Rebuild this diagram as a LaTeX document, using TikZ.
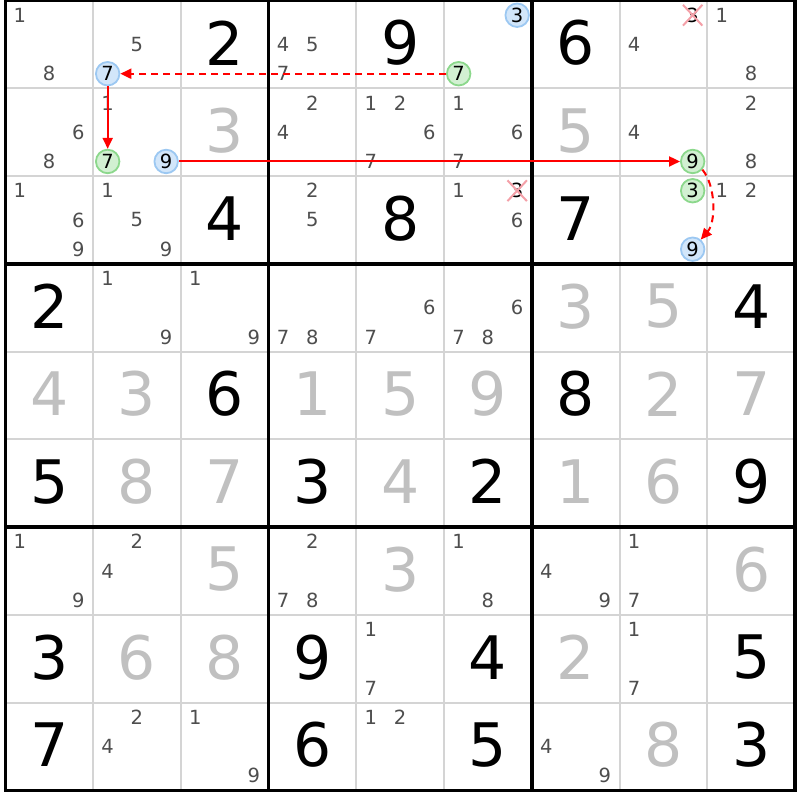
\documentclass[tikz,border=0pt]{standalone}
\usepackage{fontspec}
\setmainfont{DejaVu Sans}
\usetikzlibrary{arrows.meta,shapes.misc}
\definecolor{candgray}{HTML}{4E4E4E}
\definecolor{solgray}{HTML}{C0C0C0}
\definecolor{gridgray}{HTML}{D4D4D4}
\definecolor{bluefill}{HTML}{D2E6FA}
\definecolor{blueline}{HTML}{9CC8F2}
\definecolor{greenfill}{HTML}{D2F0D2}
\definecolor{greenline}{HTML}{8CD88C}
\definecolor{xpink}{HTML}{F4A0A8}
\definecolor{linkred}{HTML}{FF0000}
\tikzset{
  candfont/.style={font=\fontsize{19.5}{19.5}\selectfont},
  bigfont/.style={font=\fontsize{60}{60}\selectfont},
  cand/.style={candfont, text=candgray, inner sep=0pt},
  giv/.style={bigfont, text=black, inner sep=0pt},
  sol/.style={bigfont, text=solgray, inner sep=0pt},
  bcirc/.style={circle, draw=blueline, fill=bluefill, line width=1.8pt, minimum size=23.5pt, inner sep=0pt, text=black, candfont},
  gcirc/.style={circle, draw=greenline, fill=greenfill, line width=1.8pt, minimum size=23.5pt, inner sep=0pt, text=black, candfont},
  xcand/.style={cross out, draw=xpink, line width=2pt, inner xsep=2.5pt, inner ysep=2pt, text=black, candfont},
  thingrid/.style={draw=gridgray, line width=2pt},
  thickgrid/.style={draw=black, line width=3.5pt},
  lnk/.style={draw=linkred, line width=2pt, -{Triangle[length=11pt,width=10pt]}},
  dlnk/.style={lnk, dash pattern=on 7pt off 5pt}
}
\newcommand\sdgiv[3]{\node[giv] (g#1#2) at ({5.3+(#2+0.5)*87.75},{0.6+(#1+0.5)*87.75-1.5}) {#3};}
\newcommand\sdsol[3]{\node[sol] (g#1#2) at ({5.3+(#2+0.5)*87.75},{0.6+(#1+0.5)*87.75-1.5}) {#3};}
\newcommand\sdcand[3]{\foreach \cdig in {#3}{\node[cand] (n#1#2\cdig) at ({5.3+#2*87.75+(mod(\cdig-1,3)+0.5)*29.25},{0.6+#1*87.75+(floor((\cdig-1)/3)+0.5)*29.25}) {\cdig};}}
\newcommand\sdmark[4]{\node[#4] (n#1#2#3) at ({5.3+#2*87.75+(mod(#3-1,3)+0.5)*29.25},{0.6+#1*87.75+(floor((#3-1)/3)+0.5)*29.25}) {#3};}
\begin{document}
\begin{tikzpicture}[x=1pt,y=-1pt]
\useasboundingbox (0,0) rectangle (800,800);
\fill[white] (0,0) rectangle (800,800);
% thin grid
\foreach \i in {1,2,4,5,7,8}{
  \draw[thingrid] ({5.3+\i*87.75},0.6) -- ({5.3+\i*87.75},790.35);
  \draw[thingrid] (5.3,{0.6+\i*87.75}) -- (795.05,{0.6+\i*87.75});
}
% thick grid
\foreach \i in {3,6}{
  \draw[thickgrid] ({5.3+\i*87.75},0.6) -- ({5.3+\i*87.75},790.35);
  \draw[thickgrid] (5.3,{0.6+\i*87.75}) -- (795.05,{0.6+\i*87.75});
}
\draw[thickgrid] (5.3,0.6) rectangle (795.05,790.35);
% row 0
\sdcand{0}{0}{1,8}
\sdcand{0}{1}{5}
\sdmark{0}{1}{7}{bcirc}
\sdgiv{0}{2}{2}
\sdcand{0}{3}{4,5,7}
\sdgiv{0}{4}{9}
\sdmark{0}{5}{3}{bcirc}
\sdmark{0}{5}{7}{gcirc}
\sdgiv{0}{6}{6}
\sdmark{0}{7}{3}{xcand}
\sdcand{0}{7}{4}
\sdcand{0}{8}{1,8}
% row 1
\sdcand{1}{0}{6,8}
\sdcand{1}{1}{1}
\sdmark{1}{1}{7}{gcirc}
\sdmark{1}{1}{9}{bcirc}
\sdsol{1}{2}{3}
\sdcand{1}{3}{2,4}
\sdcand{1}{4}{1,2,6,7}
\sdcand{1}{5}{1,6,7}
\sdsol{1}{6}{5}
\sdcand{1}{7}{4}
\sdmark{1}{7}{9}{gcirc}
\sdcand{1}{8}{2,8}
% row 2
\sdcand{2}{0}{1,6,9}
\sdcand{2}{1}{1,5,9}
\sdgiv{2}{2}{4}
\sdcand{2}{3}{2,5}
\sdgiv{2}{4}{8}
\sdcand{2}{5}{1,6}
\sdmark{2}{5}{3}{xcand}
\sdgiv{2}{6}{7}
\sdmark{2}{7}{3}{gcirc}
\sdmark{2}{7}{9}{bcirc}
\sdcand{2}{8}{1,2}
% row 3
\sdgiv{3}{0}{2}
\sdcand{3}{1}{1,9}
\sdcand{3}{2}{1,9}
\sdcand{3}{3}{7,8}
\sdcand{3}{4}{6,7}
\sdcand{3}{5}{6,7,8}
\sdsol{3}{6}{3}
\sdsol{3}{7}{5}
\sdgiv{3}{8}{4}
% row 4
\sdsol{4}{0}{4}
\sdsol{4}{1}{3}
\sdgiv{4}{2}{6}
\sdsol{4}{3}{1}
\sdsol{4}{4}{5}
\sdsol{4}{5}{9}
\sdgiv{4}{6}{8}
\sdsol{4}{7}{2}
\sdsol{4}{8}{7}
% row 5
\sdgiv{5}{0}{5}
\sdsol{5}{1}{8}
\sdsol{5}{2}{7}
\sdgiv{5}{3}{3}
\sdsol{5}{4}{4}
\sdgiv{5}{5}{2}
\sdsol{5}{6}{1}
\sdsol{5}{7}{6}
\sdgiv{5}{8}{9}
% row 6
\sdcand{6}{0}{1,9}
\sdcand{6}{1}{2,4}
\sdsol{6}{2}{5}
\sdcand{6}{3}{2,7,8}
\sdsol{6}{4}{3}
\sdcand{6}{5}{1,8}
\sdcand{6}{6}{4,9}
\sdcand{6}{7}{1,7}
\sdsol{6}{8}{6}
% row 7
\sdgiv{7}{0}{3}
\sdsol{7}{1}{6}
\sdsol{7}{2}{8}
\sdgiv{7}{3}{9}
\sdcand{7}{4}{1,7}
\sdgiv{7}{5}{4}
\sdsol{7}{6}{2}
\sdcand{7}{7}{1,7}
\sdgiv{7}{8}{5}
% row 8
\sdgiv{8}{0}{7}
\sdcand{8}{1}{2,4}
\sdcand{8}{2}{1,9}
\sdgiv{8}{3}{6}
\sdcand{8}{4}{1,2}
\sdgiv{8}{5}{5}
\sdcand{8}{6}{4,9}
\sdsol{8}{7}{8}
\sdgiv{8}{8}{3}
% links
\draw[dlnk] (n057) -- (n017);
\draw[lnk] (n017) -- (n117);
\draw[lnk] (n119) -- (n179);
\draw[dlnk] (n179.-40) .. controls (716,186) and (716,222) .. (n279.50);
\end{tikzpicture}
\end{document}
